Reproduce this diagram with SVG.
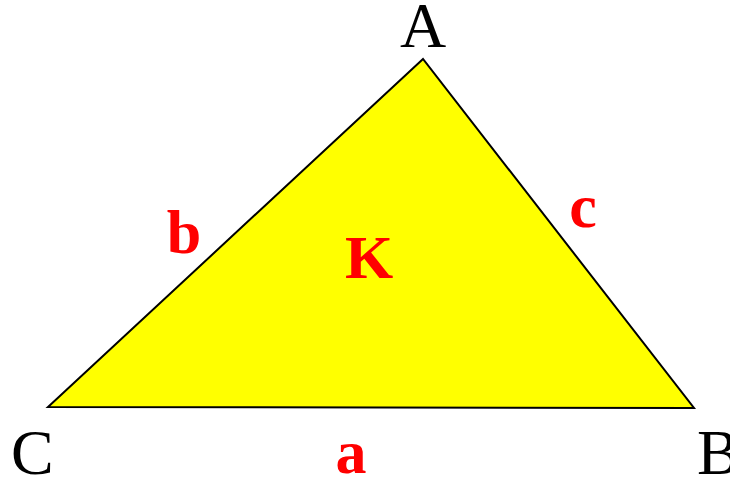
<svg xmlns="http://www.w3.org/2000/svg" width="730" height="478" viewBox="0 0 730 478">
<style>
.v{font-family:"Liberation Serif","Times New Roman",serif;font-size:64px;fill:#000}
.s{font-family:"Liberation Serif","Times New Roman",serif;font-size:62px;font-weight:bold;fill:#ff0000;text-anchor:middle}
</style>
<rect width="730" height="478" fill="#fff"/>
<g id="triangle">
<polygon points="423,59 48,407 694,408" fill="#ffff00" stroke="#000" stroke-width="2" stroke-linejoin="miter"/>
</g>
<g id="labels">
<text class="v" x="423" y="47" text-anchor="middle">A</text>
<text class="v" x="11" y="474">C</text>
<text class="v" x="697" y="474">B</text>
<text class="s" x="351" y="473">a</text>
<text class="s" x="184" y="253">b</text>
<text class="s" x="583" y="227">c</text>
<text class="s" x="369" y="278">K</text>
</g>
</svg>
